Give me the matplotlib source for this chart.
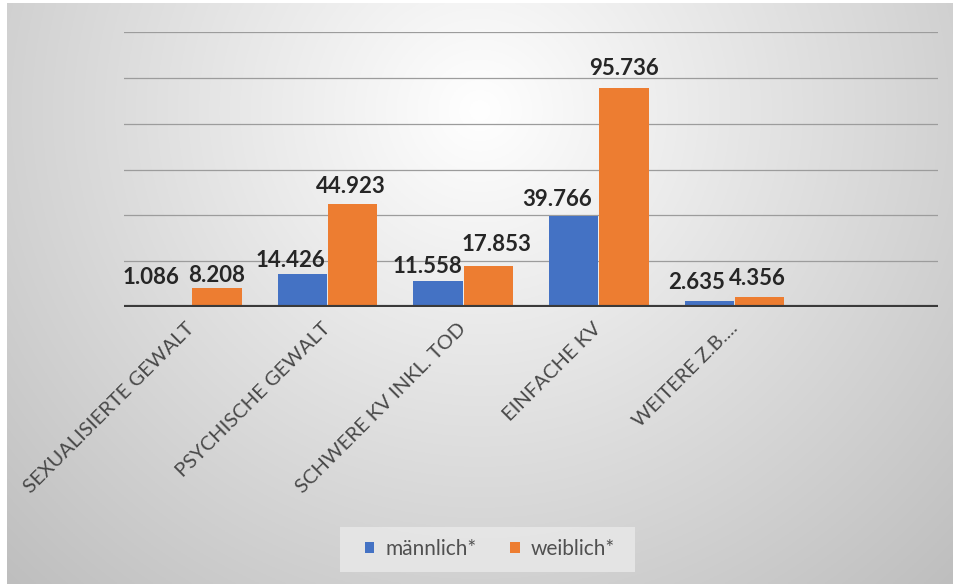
import numpy as np
import matplotlib
matplotlib.use("Agg")
import matplotlib.pyplot as plt
from matplotlib.patches import Patch, Rectangle

categories = ["SEXUALISIERTE GEWALT", "PSYCHISCHE GEWALT", "SCHWERE KV INKL. TOD",
              "EINFACHE KV", "WEITERE Z.B....", ""]
maennlich = [1.086, 14.426, 11.558, 39.766, 2.635]
weiblich = [8.208, 44.923, 17.853, 95.736, 4.356]
maennlich_labels = ["1.086", "14.426", "11.558", "39.766", "2.635"]
weiblich_labels = ["8.208", "44.923", "17.853", "95.736", "4.356"]
series_names = ["männlich*", "weiblich*"]

# label offsets in pixels (style)
m_dx = [-16, -12, -11, -17, -13]
m_dy = [17, 3, 4, 6, 8]
w_dx = [0, -2, 8, 0, -2]
w_dy = [2, 7, 11, 9, 8]

plt.rcParams['font.family'] = ['Lato', 'DejaVu Sans']

W, H = 954, 584
fig = plt.figure(figsize=(W / 100, H / 100), dpi=100)
fig.patch.set_facecolor("white")

# background gradient (chart area)
bg = fig.add_axes([7 / W, 0, 1 - 7 / W, (H - 3) / H])
yy, xx = np.mgrid[0:300, 0:500]
xp = xx / 499 * (W - 7) + 7
yp = yy / 299 * (H - 3) + 3
d = np.sqrt(((xp - 480) / 480) ** 2 + ((yp - 110) / 470) ** 2)
v = np.clip(255 - 46 * d, 185, 255) / 255.0
img = np.dstack([v, v, v])
bg.imshow(img, extent=[0, 1, 0, 1], aspect="auto", origin="upper")
bg.axis("off")

ax = fig.add_axes([124 / W, (H - 307) / H, (938 - 124) / W, (307 - 32) / H])
ax.set_facecolor("none")

x = np.arange(len(categories))
bw = 0.365
off = 0.185
bm = ax.bar(x[:len(maennlich)] - off, maennlich, bw, color="#4472C4", zorder=3)
bf = ax.bar(x[:len(weiblich)] + off, weiblich, bw, color="#ED7D31", zorder=3)

ax.set_xlim(-0.5, len(categories) - 0.5)
ax.set_ylim(0, 120)
ax.set_yticks([20, 40, 60, 80, 100, 120])
for yv in [20, 40, 60, 80, 100, 120]:
    ax.axhline(yv, color="#9c9c9c", lw=0.9, zorder=1)
ax.axhline(0, color="#3a3a3a", lw=3, zorder=4)
ax.tick_params(axis="y", left=False, labelleft=False)
for s in ax.spines.values():
    s.set_visible(False)

ax.set_xticks(x)
ax.set_xticklabels(categories, rotation=45, ha="right", va="center",
                   rotation_mode="anchor", fontsize=14.5, color="#484848")
ax.tick_params(axis="x", bottom=False, pad=10)

for i, v_ in enumerate(maennlich):
    ax.annotate(maennlich_labels[i], (x[i] - off, v_), xytext=(m_dx[i], m_dy[i]),
                textcoords="offset pixels", ha="center", va="bottom",
                fontsize=16, fontweight="bold", color="#262626", zorder=5)
for i, v_ in enumerate(weiblich):
    ax.annotate(weiblich_labels[i], (x[i] + off, v_), xytext=(w_dx[i], w_dy[i]),
                textcoords="offset pixels", ha="center", va="bottom",
                fontsize=16, fontweight="bold", color="#262626", zorder=5)

# legend box
fig.patches.append(Rectangle((340 / W, (H - 572) / H), 295 / W, 45 / H,
                             transform=fig.transFigure, facecolor="#e8e8e8",
                             edgecolor="none", alpha=0.85, zorder=1))
handles = [Patch(facecolor="#4472C4"), Patch(facecolor="#ED7D31")]
leg = fig.legend(handles, series_names, loc="center", bbox_to_anchor=(490 / W, (H - 549) / H),
                 ncol=2, frameon=False, fontsize=15, handlelength=0.45, handleheight=0.45,
                 handletextpad=0.55, columnspacing=1.6)
for t in leg.get_texts():
    t.set_color("#505050")

fig.savefig("out.png", dpi=100)
